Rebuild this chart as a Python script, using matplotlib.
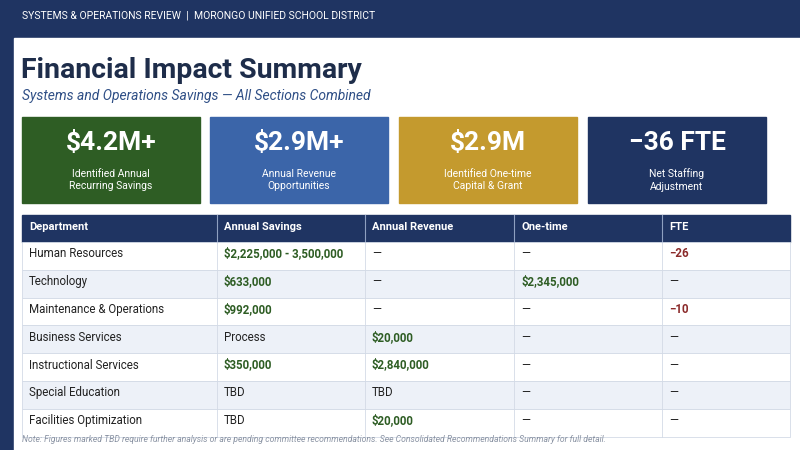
import matplotlib.pyplot as plt
from matplotlib.patches import Rectangle

plt.rcParams['font.family'] = ['Roboto', 'DejaVu Sans']

## DATA
kpi_values = ['$4.2M+', '$2.9M+', '$2.9M', '\u221236 FTE']
kpi_labels = ['Identified Annual\nRecurring Savings', 'Annual Revenue\nOpportunities',
              'Identified One-time\nCapital & Grant', 'Net Staffing\nAdjustment']
kpi_colors = ['#2e5d24', '#3b65a9', '#c49a2e', '#1f3462']

columns = ['Department', 'Annual Savings', 'Annual Revenue', 'One-time', 'FTE']
departments = ['Human Resources', 'Technology', 'Maintenance & Operations', 'Business Services',
               'Instructional Services', 'Special Education', 'Facilities Optimization']
savings = ['$2,225,000 - 3,500,000', '$633,000', '$992,000', 'Process', '$350,000', 'TBD', 'TBD']
revenue = ['\u2014', '\u2014', '\u2014', '$20,000', '$2,840,000', 'TBD', '$20,000']
onetime = ['\u2014', '$2,345,000', '\u2014', '\u2014', '\u2014', '\u2014', '\u2014']
fte = ['\u221226', '\u2014', '\u221210', '\u2014', '\u2014', '\u2014', '\u2014']

NAVY = '#1f3462'
GREEN = '#2e5d24'
RED = '#8b2a2a'
DARK = '#222222'

fig = plt.figure(figsize=(8, 4.5), dpi=100)
ax = fig.add_axes([0, 0, 1, 1])
ax.set_xlim(0, 800)
ax.set_ylim(450, 0)
ax.set_axis_off()
fig.patch.set_facecolor(NAVY)

# white card
ax.add_patch(Rectangle((14, 38), 800, 420, color='white'))
ax.text(22, 16, 'SYSTEMS & OPERATIONS REVIEW  |  MORONGO UNIFIED SCHOOL DISTRICT',
        color='white', fontsize=7.5, va='center')
ax.text(21, 70, 'Financial Impact Summary', color='#1e2d4a', fontsize=20.5, fontweight='bold', va='center')
ax.text(22, 96, 'Systems and Operations Savings \u2014 All Sections Combined',
        color='#2f4f86', fontsize=10, style='italic', va='center')

# KPI cards
card_x = [22, 210, 399, 588]
for x, v, l, c in zip(card_x, kpi_values, kpi_labels, kpi_colors):
    ax.add_patch(Rectangle((x, 117), 178, 86, color=c))
    ax.text(x + 89, 143, v, color='white', fontsize=19, fontweight='bold', ha='center', va='center')
    ax.text(x + 89, 180, l, color='white', fontsize=7.5, ha='center', va='center', linespacing=1.3)

# table
col_x = [22, 217, 365, 514, 662, 790]
top, hh, rh = 215, 27, 27.8
ax.add_patch(Rectangle((22, top), 768, hh, color=NAVY))
for i, name in enumerate(columns):
    ax.text(col_x[i] + 7, top + hh / 2 - 1, name, color='white', fontsize=8,
            fontweight='bold', va='center')
    if i > 0:
        ax.plot([col_x[i]] * 2, [top, top + hh], color='#8ea0c0', lw=0.8)

def style(val, is_fte=False):
    if val.startswith('$'):
        return GREEN, 'bold'
    if is_fte and val.startswith('\u2212'):
        return RED, 'bold'
    return DARK, 'normal'

rows = list(zip(departments, savings, revenue, onetime, fte))
for r, row in enumerate(rows):
    y0 = top + hh + r * rh
    ax.add_patch(Rectangle((22, y0), 768, rh, facecolor='#edf1f8' if r % 2 else 'white',
                           edgecolor='#d3dae6', lw=0.6))
    for i, val in enumerate(row):
        c, w = style(val, i == 4) if i > 0 else (DARK, 'normal')
        ax.text(col_x[i] + 7, y0 + rh / 2 - 2, val, color=c, fontweight=w, fontsize=8.3, va='center')
        if i > 0:
            ax.plot([col_x[i]] * 2, [y0, y0 + rh], color='#d3dae6', lw=0.6)

ax.text(22, 439, 'Note: Figures marked TBD require further analysis or are pending committee '
        'recommendations. See Consolidated Recommendations Summary for full detail.',
        color='#8a93a3', fontsize=6.2, style='italic', va='center')

fig.savefig('out.png', dpi=100, facecolor=fig.get_facecolor())
